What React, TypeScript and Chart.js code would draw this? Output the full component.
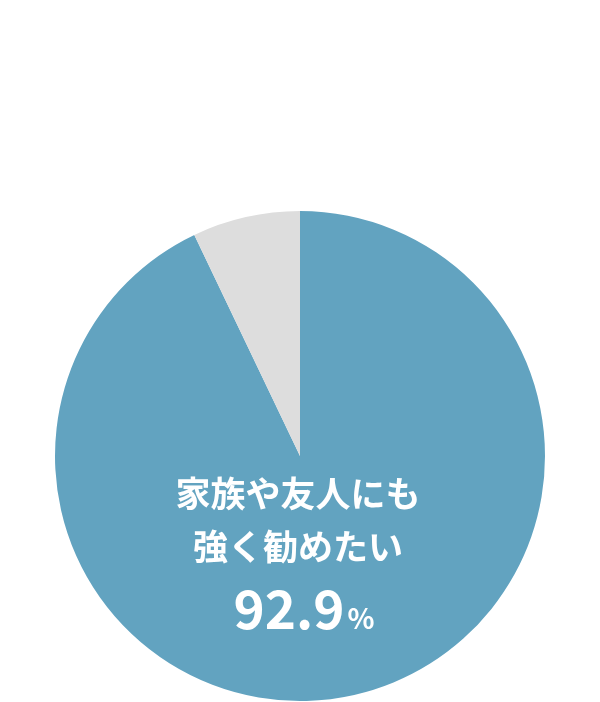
import React, { useRef, useEffect } from 'react';
import Chart from 'chart.js/auto';

// データ
const labels: string[] = ['家族や友人にも強く勧めたい', 'その他'];
const values: number[] = [92.9, 7.1];
const colors: string[] = ['#62A3C0', '#DDDDDD'];
const captionLines: string[] = ['家族や友人にも', '強く勧めたい'];
const valueText = '92.9';
const unitText = '%';

const FONT = '"Noto Sans CJK JP", "Noto Sans", sans-serif';

// 円の中に文字を描くプラグイン
const centerTextPlugin = {
  id: 'centerText',
  afterDraw(chart: Chart) {
    const { ctx, chartArea } = chart;
    const cx = (chartArea.left + chartArea.right) / 2;
    const cy = (chartArea.top + chartArea.bottom) / 2;
    ctx.save();
    ctx.fillStyle = '#ffffff';
    ctx.textAlign = 'center';
    ctx.textBaseline = 'middle';
    ctx.font = `bold 35px ${FONT}`;
    ctx.fillText(captionLines[0], cx - 2, cy + 38);
    ctx.fillText(captionLines[1], cx - 2, cy + 91);

    // 数値と%
    ctx.font = `bold 53px ${FONT}`;
    const w1 = ctx.measureText(valueText).width;
    ctx.font = `bold 28px ${FONT}`;
    const w2 = ctx.measureText(unitText).width;
    const startX = cx + 4 - (w1 + w2 + 3) / 2;
    ctx.textAlign = 'left';
    ctx.textBaseline = 'alphabetic';
    ctx.font = `bold 53px ${FONT}`;
    ctx.fillText(valueText, startX, cy + 173);
    ctx.font = `bold 28px ${FONT}`;
    ctx.fillText(unitText, startX + w1 + 3, cy + 173);
    ctx.restore();
  },
};

const App: React.FC = () => {
  const chartRef = useRef<HTMLCanvasElement>(null);
  const chartInstance = useRef<Chart | null>(null);

  useEffect(() => {
    if (!chartRef.current) return;
    if (chartInstance.current) {
      chartInstance.current.destroy();
    }

    chartInstance.current = new Chart(chartRef.current, {
      type: 'pie',
      data: {
        labels,
        datasets: [
          {
            data: values,
            backgroundColor: colors,
            borderWidth: 0,
          },
        ],
      },
      options: {
        animation: false,
        responsive: true,
        maintainAspectRatio: false,
        layout: {
          padding: { top: 211, bottom: 1, left: 55, right: 55 },
        },
        plugins: {
          legend: { display: false },
          tooltip: { enabled: false },
        },
      },
      plugins: [centerTextPlugin],
    });

    return () => {
      if (chartInstance.current) {
        chartInstance.current.destroy();
        chartInstance.current = null;
      }
    };
  }, []);

  return (
    <div
      style={{
        position: 'absolute',
        left: 0,
        top: 0,
        width: '600px',
        height: '702px',
        background: '#ffffff',
      }}
    >
      <canvas ref={chartRef}></canvas>
    </div>
  );
};

export default App;
